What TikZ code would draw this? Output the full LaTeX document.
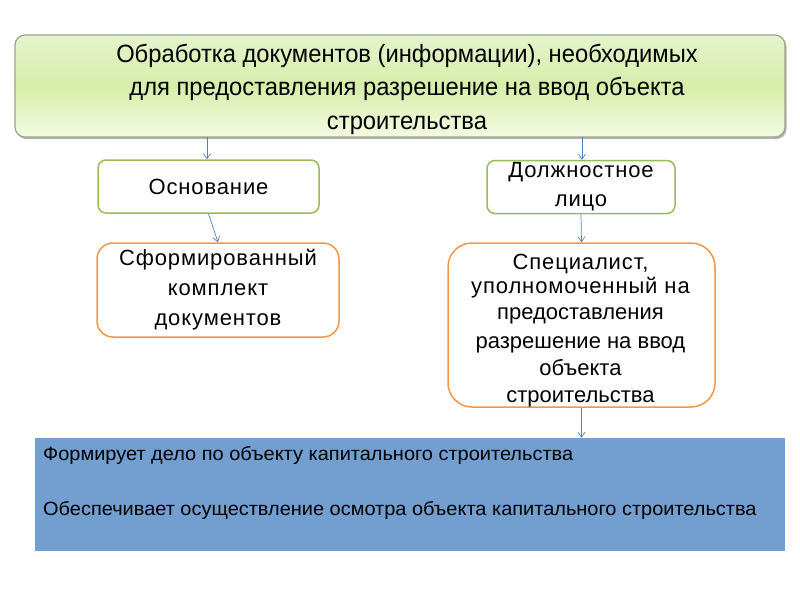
\documentclass[tikz,border=0pt]{standalone}
\usepackage{fontspec}
\setmainfont{Liberation Sans}
\newfontfamily\topfont[FakeStretch=0.95]{Liberation Sans}
\newfontfamily\spfont[LetterSpace=4]{Liberation Sans}
\newfontfamily\bluefont[FakeStretch=1.04]{Liberation Sans}
\usetikzlibrary{arrows.meta,shadows}
\definecolor{gborder}{HTML}{9BBB59}
\definecolor{oborder}{HTML}{F79646}
\definecolor{arrowc}{HTML}{4F81BD}
\definecolor{bluefill}{HTML}{729FCF}
\definecolor{topgreen}{HTML}{D6EEAA}
\definecolor{toptopc}{HTML}{E6F4CC}
\definecolor{topbotc}{HTML}{F5FBE3}
\definecolor{topborder}{HTML}{9DA38A}
\tikzset{
  conn/.style={draw=arrowc, line width=0.7pt, -{Straight Barb[length=5pt,width=7pt]}},
  greenbox/.style={draw=gborder, line width=1.5pt, rounded corners=8pt, fill=white, align=center, inner sep=0pt},
  orangebox/.style={draw=oborder, line width=1.5pt, rounded corners=16pt, fill=white, align=center, inner sep=0pt},
}
\begin{document}
\begin{tikzpicture}[x=1pt,y=-1pt]
\useasboundingbox (0,0) rectangle (800,600);
% top box
\node[draw=topborder, line width=1.2pt, rounded corners=10pt, top color=toptopc, bottom color=topbotc, middle color=topgreen,
  drop shadow={shadow xshift=1.5pt, shadow yshift=-2pt, opacity=0.6},
  minimum width=770pt, minimum height=102pt, inner sep=0pt] (top) at (400,86) {};
\node[align=center, inner sep=0pt, font=\topfont\fontsize{25}{33.5}\selectfont] (toptext) at (407,89)
  {Обработка документов (информации), необходимых\\
   для предоставления разрешение на ввод объекта\\
   строительства};
% green boxes
\node[greenbox, minimum width=221pt, minimum height=53pt, font=\spfont\fontsize{22}{26}\selectfont] (osn) at (208.5,186.5) {Основание};
\node[greenbox, minimum width=188pt, minimum height=53pt, font=\spfont\fontsize{22}{29}\selectfont] (dol) at (581,187) {Должностное\\лицо};
% orange boxes
\node[orangebox, minimum width=242pt, minimum height=94pt, font=\spfont\fontsize{22}{30}\selectfont] (form) at (218,290) {Сформированный\\комплект\\документов};
\node[orangebox, rounded corners=24pt, minimum width=267pt, minimum height=164pt] (spec) at (581.5,325) {};
\node[align=center, inner sep=0pt, font=\fontsize{22}{27}\selectfont] (spectext) at (580.5,330.5)
  {\spfont Специалист,\\[-3pt]
   \spfont уполномоченный на\\[-1pt]
   предоставления\\[2pt]
   разрешение на ввод\\
   объекта\\
   строительства};
% blue rectangle
\node[fill=bluefill, minimum width=750pt, minimum height=113pt, inner sep=0pt] (blue) at (410,494.5) {};
\node[anchor=west, inner sep=0pt, font=\bluefont\fontsize{19.2}{22}\selectfont] (t1) at (43,455) {Формирует дело по объекту капитального строительства};
\node[anchor=west, inner sep=0pt, font=\bluefont\fontsize{19.2}{22}\selectfont] (t2) at (43,510) {Обеспечивает осуществление осмотра объекта капитального строительства};
% connectors
\coordinate (a1) at (207,137);
\coordinate (a2) at (582,137);
\draw[conn] (a1) -- (osn.north -| a1);
\draw[conn] (a2) -- (dol.north -| a2);
\draw[conn] (osn.south) -- (form.north);
\draw[conn] (dol.south) -- (spec.north);
\draw[conn] (spec.south) -- (blue.north -| spec.south);
\end{tikzpicture}
\end{document}
